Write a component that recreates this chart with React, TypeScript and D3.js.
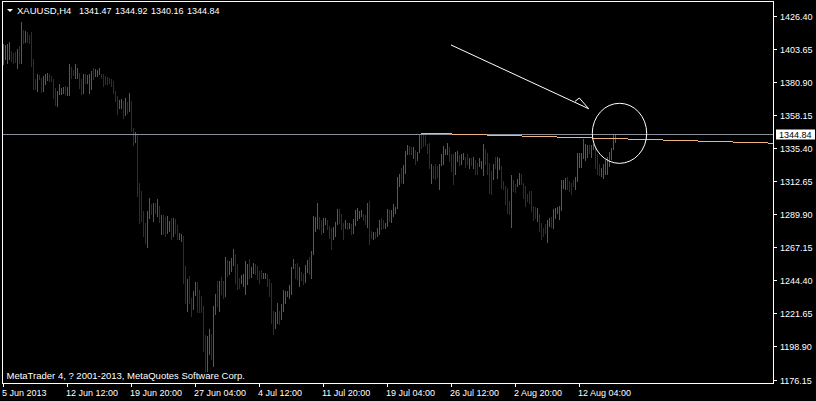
import React from "react";
import * as d3 from "d3";

const W = 816;
const H = 401;

const symbolTitle = "XAUUSD,H4";
const lastBarOHLC = [1341.47, 1344.92, 1340.16, 1344.84];
const bidPrice = 1344.84;
const copyright = "MetaTrader 4, ? 2001-2013, MetaQuotes Software Corp.";

const priceTicks = [1426.4, 1403.65, 1380.9, 1358.15, 1335.4, 1312.65, 1289.9, 1267.15, 1244.4, 1221.65, 1198.9, 1176.15];
const timeLabels = ["5 Jun 2013", "12 Jun 12:00", "19 Jun 20:00", "27 Jun 04:00", "4 Jul 12:00", "11 Jul 20:00", "19 Jul 04:00", "26 Jul 12:00", "2 Aug 20:00", "12 Aug 04:00"];
const timeLabelBars = [0, 32, 64, 96, 128, 160, 192, 224, 256, 288];

const highs = [
  1407.6, 1406.9, 1407.6, 1409.0, 1402.8, 1401.4, 1402.1, 1404.1, 1406.2, 1422.7,
  1417.2, 1416.5, 1415.8, 1413.8, 1415.8, 1397.2, 1383.5, 1386.9, 1386.2, 1384.2,
  1385.5, 1386.9, 1387.6, 1386.9, 1385.5, 1383.5, 1377.3, 1375.2, 1380.0, 1377.3,
  1377.9, 1378.6, 1377.9, 1393.8, 1391.7, 1389.7, 1393.8, 1391.0, 1387.6, 1383.5,
  1386.9, 1386.9, 1386.2, 1386.9, 1389.0, 1391.0, 1390.4, 1389.7, 1391.0, 1386.9,
  1386.9, 1385.5, 1384.8, 1384.2, 1383.5, 1382.1, 1375.2, 1371.8, 1369.0, 1369.7,
  1368.3, 1370.4, 1367.6, 1373.8, 1368.3, 1349.7, 1347.0, 1345.6, 1311.8, 1306.3,
  1292.6, 1284.3, 1292.6, 1301.5, 1297.4, 1298.1, 1298.1, 1300.8, 1296.0, 1289.8,
  1289.8, 1288.4, 1289.1, 1285.7, 1287.7, 1287.7, 1287.0, 1282.9, 1277.4, 1276.7,
  1275.3, 1254.6, 1245.7, 1247.8, 1232.6, 1237.4, 1243.6, 1243.6, 1238.1, 1234.0,
  1227.1, 1207.1, 1206.4, 1211.3, 1207.8, 1227.1, 1235.4, 1244.3, 1244.3, 1247.1,
  1244.3, 1260.9, 1258.8, 1258.1, 1260.2, 1266.4, 1262.9, 1256.0, 1246.4, 1248.5,
  1249.2, 1258.1, 1256.0, 1259.5, 1254.0, 1256.7, 1256.0, 1254.7, 1251.2, 1251.9,
  1249.8, 1249.8, 1249.2, 1245.7, 1242.9, 1223.7, 1223.0, 1229.2, 1223.7, 1228.5,
  1238.1, 1237.4, 1237.4, 1241.6, 1254.0, 1259.5, 1256.0, 1256.7, 1254.0, 1250.5,
  1249.2, 1255.4, 1258.8, 1260.9, 1265.0, 1289.1, 1288.4, 1298.1, 1288.4, 1286.3,
  1287.7, 1287.7, 1286.3, 1282.2, 1280.8, 1281.5, 1285.0, 1293.9, 1293.9, 1290.5,
  1284.3, 1286.3, 1284.3, 1284.3, 1283.6, 1287.0, 1293.2, 1294.6, 1292.6, 1293.2,
  1290.5, 1289.8, 1298.1, 1299.4, 1278.8, 1278.1, 1278.1, 1280.8, 1286.3, 1287.7,
  1286.3, 1284.3, 1293.9, 1293.2, 1293.2, 1297.4, 1295.3, 1315.9, 1318.0, 1322.2,
  1324.2, 1333.9, 1338.0, 1337.3, 1336.6, 1336.6, 1334.6, 1333.2, 1345.6, 1345.6,
  1345.6, 1344.9, 1338.7, 1339.4, 1324.9, 1323.5, 1324.9, 1323.5, 1324.9, 1331.8,
  1337.3, 1335.3, 1339.4, 1336.6, 1331.8, 1331.8, 1333.2, 1333.9, 1331.1, 1331.8,
  1332.5, 1329.7, 1331.8, 1329.1, 1329.1, 1329.7, 1327.7, 1325.6, 1329.1, 1327.0,
  1338.7, 1335.3, 1332.5, 1325.6, 1320.1, 1324.9, 1329.7, 1329.7, 1329.1, 1323.5,
  1313.2, 1309.8, 1308.4, 1299.4, 1317.3, 1313.9, 1311.1, 1314.6, 1318.7, 1318.0,
  1311.8, 1309.8, 1304.3, 1306.3, 1306.3, 1296.0, 1295.3, 1294.6, 1290.5, 1284.3,
  1280.8, 1283.6, 1286.3, 1287.7, 1288.4, 1293.9, 1294.6, 1295.3, 1296.0, 1313.9,
  1313.9, 1315.3, 1316.0, 1313.2, 1311.8, 1313.9, 1316.0, 1332.5, 1332.5, 1332.5,
  1342.1, 1338.7, 1338.0, 1338.0, 1338.0, 1338.7, 1335.9, 1331.8, 1324.9, 1322.2,
  1324.9, 1327.7, 1329.7, 1333.2, 1335.9, 1345.6, 1344.92,
];

const lows = [
  1393.8, 1397.2, 1394.5, 1397.2, 1395.9, 1394.5, 1395.2, 1391.0, 1394.5, 1394.5,
  1408.3, 1409.0, 1409.0, 1408.3, 1392.4, 1376.6, 1376.6, 1375.2, 1383.5, 1374.5,
  1375.2, 1380.0, 1382.8, 1382.1, 1382.1, 1370.4, 1365.6, 1364.9, 1373.1, 1373.1,
  1373.8, 1373.1, 1372.4, 1372.4, 1384.2, 1386.2, 1384.2, 1384.2, 1377.3, 1373.1,
  1373.8, 1380.7, 1380.7, 1373.8, 1376.6, 1383.5, 1385.5, 1385.5, 1386.9, 1384.2,
  1378.6, 1380.0, 1380.0, 1380.7, 1378.6, 1373.8, 1368.3, 1359.4, 1363.5, 1363.5,
  1356.6, 1358.7, 1360.1, 1361.4, 1347.7, 1338.0, 1340.1, 1302.9, 1284.3, 1285.7,
  1275.3, 1270.5, 1267.8, 1287.7, 1290.5, 1285.7, 1291.2, 1289.1, 1284.9, 1276.7,
  1276.7, 1275.3, 1277.4, 1278.8, 1273.3, 1275.3, 1277.4, 1273.3, 1273.3, 1271.9,
  1242.9, 1229.2, 1223.7, 1229.2, 1220.2, 1225.0, 1234.7, 1223.0, 1223.0, 1223.0,
  1196.1, 1182.3, 1182.3, 1194.1, 1190.6, 1185.8, 1221.6, 1227.1, 1223.7, 1235.4,
  1232.6, 1234.0, 1247.8, 1249.2, 1251.2, 1255.4, 1243.0, 1238.8, 1239.5, 1243.0,
  1240.9, 1235.4, 1242.3, 1246.4, 1247.1, 1249.8, 1249.2, 1245.7, 1243.0, 1246.4,
  1246.4, 1246.4, 1240.9, 1234.0, 1215.4, 1207.8, 1212.0, 1215.4, 1214.7, 1218.2,
  1223.7, 1229.2, 1234.0, 1232.6, 1235.4, 1253.3, 1246.4, 1245.7, 1240.9, 1245.0,
  1242.3, 1243.6, 1250.5, 1249.2, 1246.4, 1262.9, 1278.8, 1280.8, 1280.2, 1276.7,
  1278.1, 1283.6, 1280.2, 1274.0, 1266.4, 1273.3, 1275.3, 1283.6, 1284.3, 1280.2,
  1273.3, 1280.8, 1280.2, 1280.8, 1276.7, 1277.4, 1282.9, 1286.3, 1287.7, 1289.1,
  1286.3, 1283.6, 1281.5, 1269.8, 1274.0, 1273.3, 1274.0, 1275.3, 1276.7, 1280.2,
  1280.8, 1280.8, 1282.2, 1285.7, 1285.0, 1289.1, 1291.2, 1294.6, 1309.8, 1312.5,
  1311.8, 1318.7, 1331.8, 1331.8, 1331.8, 1329.1, 1324.9, 1327.7, 1333.2, 1335.9,
  1337.3, 1338.0, 1332.5, 1322.2, 1311.8, 1315.3, 1314.6, 1316.0, 1307.7, 1324.2,
  1324.9, 1331.8, 1331.8, 1327.0, 1320.1, 1311.1, 1318.0, 1327.0, 1324.2, 1324.9,
  1328.4, 1322.8, 1324.9, 1322.2, 1324.2, 1322.2, 1318.0, 1318.0, 1323.5, 1322.2,
  1317.3, 1324.9, 1318.0, 1304.9, 1304.3, 1314.6, 1322.2, 1315.3, 1321.5, 1308.4,
  1307.7, 1297.4, 1291.2, 1290.5, 1281.5, 1306.3, 1305.6, 1309.8, 1311.1, 1311.1,
  1301.5, 1296.0, 1299.4, 1298.1, 1292.6, 1286.3, 1287.7, 1285.7, 1278.8, 1273.3,
  1275.3, 1277.4, 1271.2, 1282.2, 1281.5, 1280.8, 1287.7, 1291.2, 1287.0, 1293.2,
  1308.4, 1307.7, 1307.7, 1306.3, 1304.3, 1309.8, 1307.7, 1313.2, 1322.8, 1322.8,
  1329.1, 1327.7, 1329.7, 1332.5, 1329.7, 1335.3, 1322.2, 1318.0, 1317.3, 1316.6,
  1315.3, 1318.0, 1318.0, 1323.5, 1328.4, 1335.3, 1340.16,
];

// R = bullish bar (red), B = bearish bar (blue)
const barDirections = (
  "RRRRBBBRBR" + "BRBBBBBRBB" + "RRRBBBBRRR" + "RBRRBBRRBB" + "RBRRRBRRRB" +
  "BBBBBBBBRR" + "BRBRBBRBBB" + "BBRRBRBRBR" + "BBRRBRBBRR" + "BBRBBRRBBB" +
  "BBRRBRRBRB" + "BRBRRRBBBR" + "RRRBRRBBBB" + "RRBBBBRRBR" + "RRRRRRBBRB" +
  "BRRBRRRRBB" + "RRBBBRRRBB" + "BRBRBRRRRR" + "BBRBBRBRRB" + "BRRBRRRRRB" +
  "RRRBBRBRRB" + "BBBBRBBBRR" + "RRRBBBRRBR" + "RBBRBRBBRR" + "RBBBBRBRRB" +
  "BBBBRBBRRB" + "BBBBBBBRBB" + "BBRRBRRRRR" + "RRBBBBRRRR" + "RRRBRRBBBR" +
  "RRRRRRR"
).split("");

// annotation objects (bar index, price)
const trendBars = [209, 385];
const trendPrices = [1346.1, 1339.2];
const arrowBars = [223.75, 292.6];
const arrowPrices = [1406.8, 1362.9];
const arrowHeadBars = [285.75, 287.9, 292.6];
const arrowHeadPrices = [1368.0, 1370.3, 1362.9];
const ellipseBars = [294.4, 321.6];
const ellipsePrices = [1366.65, 1325.3];

const UP = "#e81c1c";
const DOWN = "#1818dc";
const FONT = "'Liberation Sans', Arial, sans-serif";

export default function App() {
  const left = 2.5, top = 1.5, right = 773.5, bottom = 383.5;
  const x = d3.scaleLinear().domain([0, 385]).range([3.5, 773.5]);
  const y = d3.scaleLinear().domain([1176.15, 1426.4]).range([380, 16.5]);
  const snap = (v: number) => Math.round(v - 0.5) + 0.5;

  const trendLine = d3.line<number>()
    .x((_, i) => x(trendBars[i]))
    .y((d) => y(d))(trendPrices) as string;
  const arrowLine = d3.line<number>()
    .x((_, i) => x(arrowBars[i]))
    .y((d) => y(d))(arrowPrices) as string;
  const headLine = d3.line<number>()
    .x((_, i) => x(arrowHeadBars[i]))
    .y((d) => y(d))(arrowHeadPrices) as string;

  const ex0 = x(ellipseBars[0]), ex1 = x(ellipseBars[1]);
  const ey0 = y(ellipsePrices[0]), ey1 = y(ellipsePrices[1]);
  const bidY = snap(y(bidPrice));

  return (
    <svg width={W} height={H} style={{ position: "absolute", left: 0, top: 0, background: "#000" }}
      fontFamily={FONT}>
      <rect x={0} y={0} width={W} height={H} fill="#000" />
      <defs>
        <clipPath id="plot">
          <rect x={left} y={top} width={right - left} height={bottom - top} />
        </clipPath>
      </defs>

      <g clipPath="url(#plot)">
        {highs.map((h, i) => (
          <line key={i} x1={x(i)} x2={x(i)} y1={Math.round(y(h))} y2={Math.round(y(lows[i])) + 1}
            stroke={barDirections[i] === "R" ? UP : DOWN} strokeWidth={1} shapeRendering="crispEdges" />
        ))}
        <line x1={left} x2={right} y1={bidY} y2={bidY} stroke="#8a9099" strokeWidth={1} shapeRendering="crispEdges" />
        <path d={trendLine} stroke="#f0b482" strokeWidth={1} fill="none" shapeRendering="crispEdges" />
        <path d={arrowLine} stroke="#fff" strokeWidth={1} fill="none" />
        <path d={headLine} stroke="#fff" strokeWidth={1} fill="none" />
        <ellipse cx={(ex0 + ex1) / 2} cy={(ey0 + ey1) / 2} rx={(ex1 - ex0) / 2} ry={(ey1 - ey0) / 2}
          stroke="#fff" strokeWidth={1} fill="none" />
      </g>

      {/* frame */}
      <rect x={left} y={top} width={right - left} height={bottom - top} fill="none" stroke="#fff" strokeWidth={1} shapeRendering="crispEdges" />

      {/* price axis */}
      {priceTicks.map((p) => {
        const ty = snap(y(p));
        return (
          <g key={p}>
            <line x1={774} x2={777} y1={ty} y2={ty} stroke="#fff" shapeRendering="crispEdges" />
            <text x={780} y={ty + 3.5} fill="#fff" fontSize={9}>{p.toFixed(2)}</text>
          </g>
        );
      })}
      <rect x={776} y={bidY - 5} width={39} height={10} fill="#fff" />
      <text x={779} y={bidY + 3.5} fill="#000" fontSize={9}>{bidPrice.toFixed(2)}</text>

      {/* time axis */}
      {timeLabels.map((t, k) => {
        const tx = x(timeLabelBars[k]);
        return (
          <g key={t}>
            <line x1={tx} x2={tx} y1={bottom} y2={387} stroke="#fff" shapeRendering="crispEdges" />
            <text x={tx - 1.5} y={396} fill="#fff" fontSize={9}>{t}</text>
          </g>
        );
      })}

      {/* title */}
      <path d="M7,9 L13,9 L10,12 Z" fill="#fff" />
      <text x={17} y={14} fill="#fff" fontSize={9.5}>{symbolTitle}</text>
      {lastBarOHLC.map((v, k) => (
        <text key={k} x={79 + k * 36} y={14} fill="#fff" fontSize={9}>{v.toFixed(2)}</text>
      ))}

      <text x={6.5} y={379} fill="#fff" fontSize={9.5}>{copyright}</text>
    </svg>
  );
}
